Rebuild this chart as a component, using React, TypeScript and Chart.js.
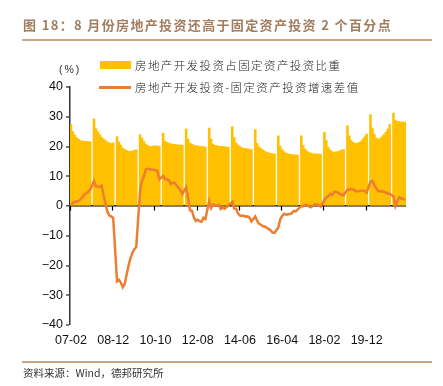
import React, { useEffect, useRef } from "react";
import { Chart, registerables } from "chart.js";

Chart.register(...registerables);

const TITLE = "图 18：8 月份房地产投资还高于固定资产投资 2 个百分点";
const SOURCE = "资料来源：Wind，德邦研究所";
const UNIT = "(%)";
const BAR_LABEL = "房地产开发投资占固定资产投资比重";
const LINE_LABEL = "房地产开发投资-固定资产投资增速差值";

const BAR_COLOR = "#FFC000";
const LINE_COLOR = "#ED7D31";

// Monthly categories 2007-02 .. 2021-08 (January is not published -> null values)
const months: string[] = [];
for (let y = 2007; y <= 2021; y++) {
  for (let m = 1; m <= 12; m++) {
    if (y === 2007 && m < 2) continue;
    if (y === 2021 && m > 8) break;
    months.push(`${String(y % 100).padStart(2, "0")}-${String(m).padStart(2, "0")}`);
  }
}

const tickLabels = ["07-02", "08-12", "10-10", "12-08", "14-06", "16-04", "18-02", "19-12"];

// Real-estate investment share of fixed-asset investment (%)
const shareValues: (number | null)[] = [
  27.4, 25.0, 23.8, 23.0, 22.4, 22.0, 21.8, 21.7, 21.7, 21.7, 21.6,
  null, 29.3, 26.0, 25.0, 24.0, 23.1, 22.5, 22.0, 21.5, 21.2, 21.0, 21.2,
  null, 23.3, 21.5, 20.5, 19.5, 19.0, 18.6, 18.4, 18.4, 18.5, 18.7, 18.9,
  null, 24.0, 22.8, 21.7, 20.8, 20.3, 20.0, 20.0, 20.2, 20.2, 20.2, 20.0,
  null, 24.5, 21.8, 21.4, 21.1, 20.9, 20.8, 20.7, 20.6, 20.5, 20.5, 20.4,
  null, 25.9, 22.5, 21.2, 20.8, 20.5, 20.3, 20.2, 20.1, 20.0, 19.9, 19.8,
  null, 26.2, 22.5, 20.8, 20.4, 20.3, 20.1, 20.1, 20.0, 19.9, 19.9, 19.7,
  null, 26.7, 23.0, 21.2, 20.5, 20.0, 19.6, 19.4, 19.3, 19.2, 19.1, 19.0,
  null, 25.7, 21.0, 19.9, 19.3, 18.8, 18.4, 18.1, 17.9, 17.7, 17.6, 17.5,
  null, 23.6, 20.2, 19.0, 18.3, 17.8, 17.6, 17.4, 17.3, 17.2, 17.2, 17.1,
  null, 23.6, 20.3, 19.1, 18.4, 18.0, 17.8, 17.6, 17.5, 17.5, 17.5, 17.4,
  null, 24.8, 22.0, 19.7, 18.8, 18.3, 18.1, 18.2, 18.3, 18.6, 18.8, 19.0,
  null, 27.0, 23.6, 22.0, 21.4, 21.0, 21.1, 21.3, 21.7, 22.5, 23.3, 24.2,
  null, 30.7, 26.2, 24.2, 22.9, 22.5, 22.8, 23.3, 24.0, 24.8, 25.9, 27.4,
  null, 31.2, 28.8, 28.4, 28.4, 28.2, 28.2, 28.2,
];

// Real-estate investment growth minus fixed-asset investment growth (pct points)
const gapValues: (number | null)[] = [
  0.3, 1.0, 1.5, 1.4, 1.7, 2.2, 3.0, 3.9, 4.3, 4.8, 5.5,
  null, 8.4, 6.6, 6.5, 6.5, 6.8, 3.5, 0.8, -2.0, -3.2, -3.5, -4.0,
  null, -25.3, -24.8, -25.8, -27.3, -26.2, -23.0, -20.0, -17.5, -15.8, -14.5, -13.8,
  null, 5.0, 8.5, 10.0, 12.3, 12.5, 12.4, 12.2, 12.2, 12.0, 11.8, 9.0,
  null, 10.1, 9.0, 9.0, 8.6, 7.3, 7.9, 7.8, 6.8, 6.2, 5.3, 4.0,
  null, 6.3, 2.6, -1.5, -1.6, -3.8, -5.0, -4.6, -5.1, -5.3, -4.0, -4.4,
  null, 1.6, -0.7, 0.5, 0.2, 0.2, 0.4, -1.0, -0.5, -0.9, -0.4, 0.2,
  null, 1.4, -0.8, -0.9, -2.5, -3.2, -3.3, -3.3, -3.6, -3.5, -3.9, -5.2,
  null, -3.5, -5.0, -6.0, -6.3, -6.8, -6.9, -7.4, -7.7, -8.2, -8.9, -9.0,
  null, -7.2, -4.5, -3.3, -2.6, -2.9, -2.8, -2.7, -2.4, -1.7, -1.8, -1.2,
  null, 0.0, -0.1, 0.4, 0.2, -0.1, -0.4, 0.1, 0.6, 0.5, 0.3, -0.2,
  null, 2.0, 2.9, 3.3, 4.1, 3.7, 4.7, 4.8, 4.5, 4.0, 3.8, 3.6,
  null, 5.5, 5.5, 5.8, 5.6, 5.1, 4.9, 5.0, 5.1, 5.1, 5.0, 4.5,
  null, 8.2, 8.4, 7.0, 6.0, 5.0, 5.0, 4.9, 4.8, 4.5, 4.2, 4.1,
  null, 3.3, 0.0, 1.7, 2.9, 2.4, 2.4, 2.0,
];

const yTicks = [-40, -30, -20, -10, 0, 10, 20, 30, 40];

const AXIS_FONT = { family: "'Liberation Sans', Arial, sans-serif", size: 12.5 };
const CJK = "'Noto Sans CJK SC', 'Noto Sans', sans-serif";

const zeroAxisTicks = {
  id: "zeroAxisTicks",
  beforeDatasetsDraw(chart: any) {
    const xs = chart.scales.x;
    const ys = chart.scales.y;
    const ctx = chart.ctx;
    const y0 = ys.getPixelForValue(0);
    const half = (xs.getPixelForValue(1) - xs.getPixelForValue(0)) / 2;
    ctx.save();
    ctx.strokeStyle = "#000";
    ctx.lineWidth = 1.2;
    ctx.beginPath();
    xs.ticks.forEach((t: any) => {
      const px = Math.round(xs.getPixelForValue(t.value) - half) + 0.5;
      ctx.moveTo(px, y0);
      ctx.lineTo(px, y0 + 4.5);
    });
    ctx.stroke();
    ctx.restore();
  },
};

export default function App() {
  const canvasRef = useRef<HTMLCanvasElement | null>(null);

  useEffect(() => {
    if (!canvasRef.current) return;
    const chart = new Chart(canvasRef.current, {
      type: "bar",
      data: {
        labels: months,
        datasets: [
          {
            type: "bar",
            label: BAR_LABEL,
            data: shareValues,
            backgroundColor: BAR_COLOR,
            borderWidth: 0,
            barPercentage: 1,
            categoryPercentage: 1,
            order: 2,
          } as any,
          {
            type: "line",
            label: LINE_LABEL,
            data: gapValues,
            borderColor: LINE_COLOR,
            backgroundColor: LINE_COLOR,
            borderWidth: 2.5,
            pointRadius: 0,
            spanGaps: true,
            tension: 0,
            order: 1,
          } as any,
        ],
      },
      options: {
        animation: false,
        responsive: false,
        maintainAspectRatio: false,
        devicePixelRatio: 1,
        layout: { padding: { left: 0, top: 87, right: 37, bottom: 0 } },
        plugins: { legend: { display: false }, tooltip: { enabled: false }, title: { display: false } },
        scales: {
          x: {
            type: "category",
            grid: { display: false, drawTicks: false },
            border: { display: false },
            ticks: {
              autoSkip: false,
              maxRotation: 0,
              minRotation: 0,
              padding: 8,
              color: "#111",
              font: AXIS_FONT,
            },
            afterBuildTicks: (scale: any) => {
              scale.ticks = scale.ticks.filter((t: any) => tickLabels.includes(months[t.value]));
            },
            afterFit: (scale: any) => {
              scale.height = 61;
            },
          },
          y: {
            min: -40,
            max: 40,
            afterBuildTicks: (scale: any) => {
              scale.ticks = yTicks.map((v) => ({ value: v }));
            },
            ticks: {
              padding: 3,
              color: "#111",
              font: AXIS_FONT,
              callback: (v: any) => (Number(v) < 0 ? "\u2212" + Math.abs(Number(v)) : String(v)),
            },
            grid: {
              drawOnChartArea: true,
              color: (ctx: any) => (ctx.tick && ctx.tick.value === 0 ? "#000" : "rgba(0,0,0,0)"),
              lineWidth: (ctx: any) => (ctx.tick && ctx.tick.value === 0 ? 1.5 : 0),
              tickColor: "#333",
              tickWidth: 1.3,
              tickLength: 4,
            },
            border: { display: true, color: "#333", width: 1.5 },
            afterFit: (scale: any) => {
              scale.width = 70;
            },
          },
        },
      },
      plugins: [zeroAxisTicks],
    } as any);
    return () => chart.destroy();
  }, []);

  const text = (extra: React.CSSProperties): React.CSSProperties => ({
    position: "absolute",
    whiteSpace: "nowrap",
    fontFamily: CJK,
    ...extra,
  });

  return (
    <div style={{ position: "fixed", left: 0, top: 0, width: 443, height: 386, background: "#fff", overflow: "hidden" }}>
      <canvas ref={canvasRef} width={443} height={386} style={{ position: "absolute", left: 0, top: 0, width: 443, height: 386 }} />
      <div style={text({ left: 23, top: 15, lineHeight: "20px", fontSize: 13, fontWeight: 700, color: "#A27D5E", letterSpacing: "1.35px" })}>
        {TITLE}
      </div>
      <div style={{ position: "absolute", left: 22, top: 39, width: 410, height: 2, background: "#C9A584" }} />
      <div style={text({ left: 59, top: 61, lineHeight: "16px", fontSize: 10.5, color: "#333", letterSpacing: "2px", fontFamily: "'Liberation Sans', Arial, sans-serif" })}>
        {UNIT}
      </div>
      <div style={{ position: "absolute", left: 100, top: 61, width: 31, height: 8, background: BAR_COLOR }} />
      <div style={text({ left: 135, top: 57, lineHeight: "16px", fontSize: 11.5, fontWeight: 300, color: "#222", letterSpacing: "1.4px" })}>
        {BAR_LABEL}
      </div>
      <div style={{ position: "absolute", left: 99, top: 86, width: 32, height: 2.5, background: LINE_COLOR }} />
      <div style={text({ left: 135, top: 79, lineHeight: "16px", fontSize: 11.5, fontWeight: 300, color: "#222", letterSpacing: "1.4px" })}>
        {LINE_LABEL}
      </div>
      <div style={{ position: "absolute", left: 22, top: 361, width: 410, height: 1.5, background: "#C9A584" }} />
      <div style={text({ left: 23, top: 366, lineHeight: "14px", fontSize: 10.5, color: "#333" })}>{SOURCE}</div>
    </div>
  );
}
